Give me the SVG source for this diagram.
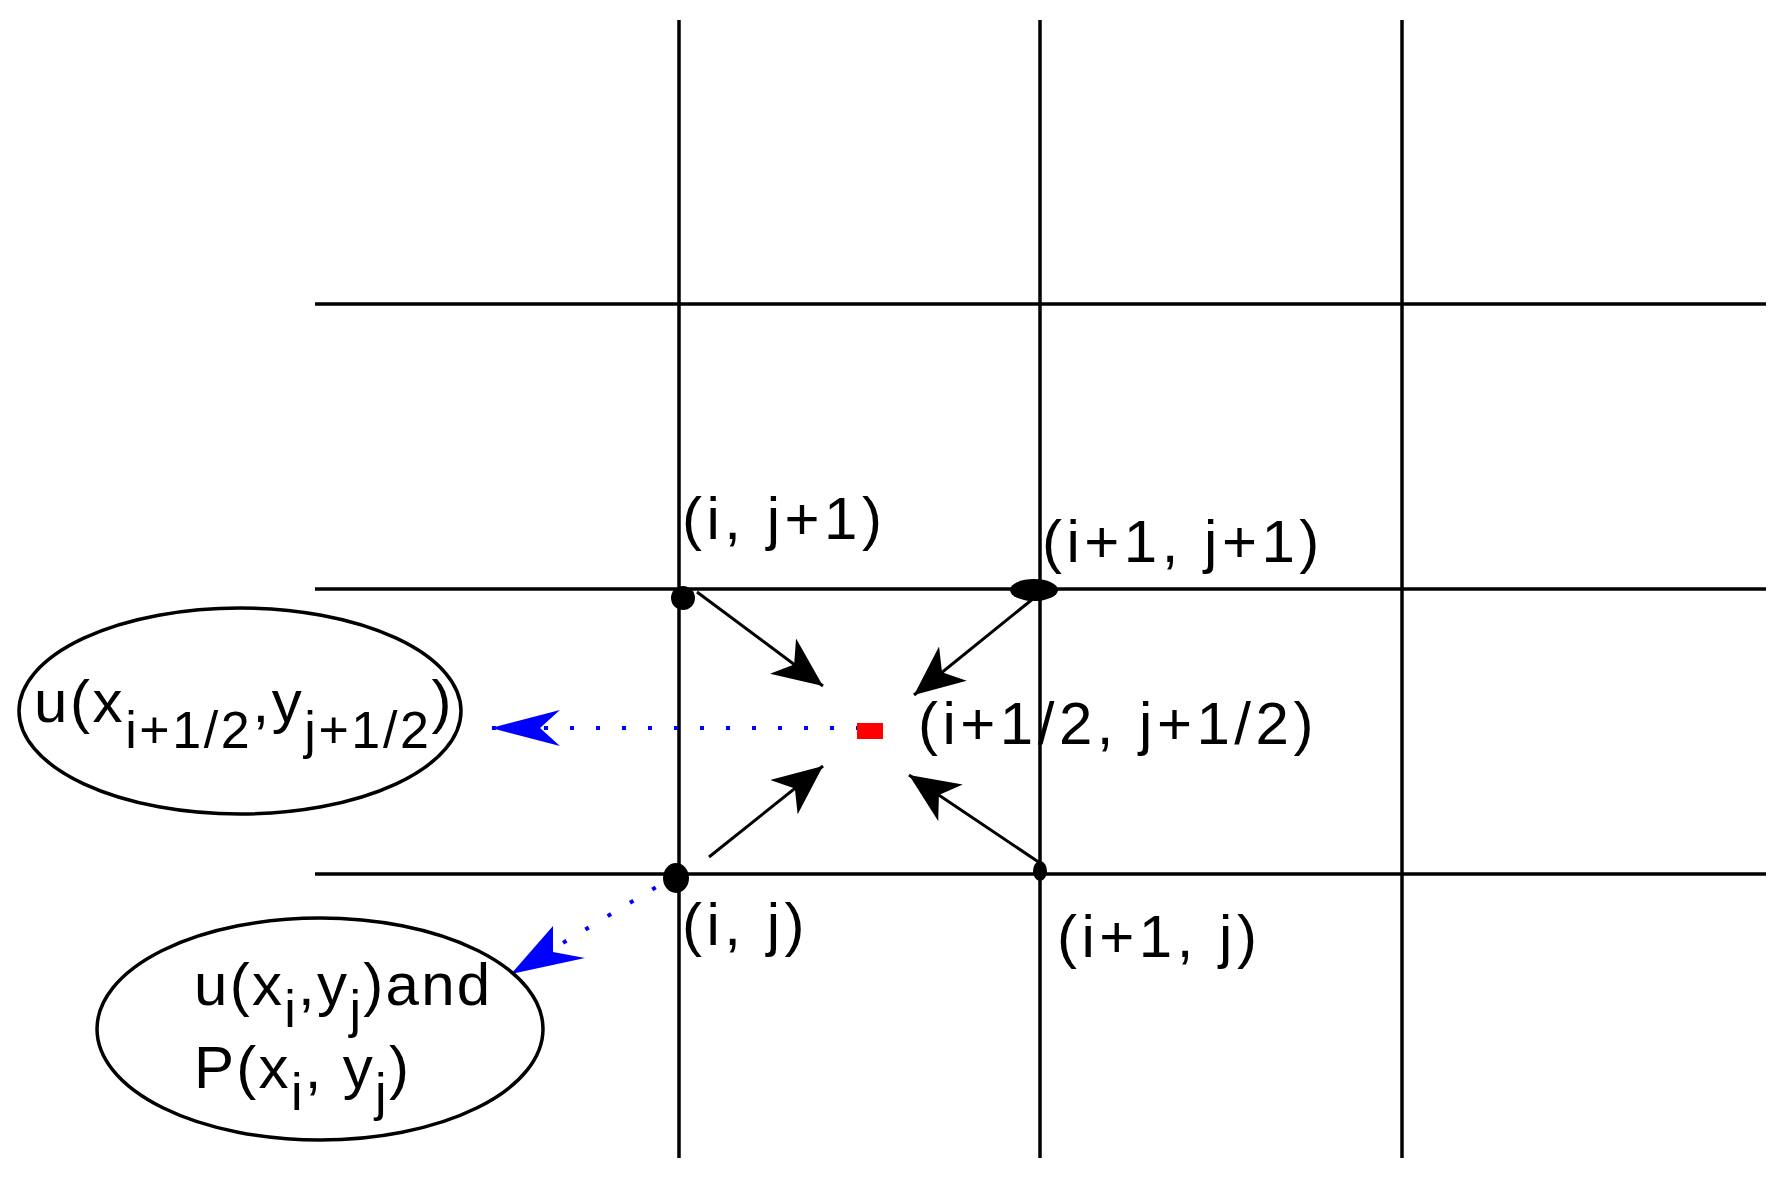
<svg xmlns="http://www.w3.org/2000/svg" width="1792" height="1184" viewBox="0 0 1792 1184">
<style>
.g{stroke:#000;stroke-width:3.5;fill:none}
.a{stroke:#000;stroke-width:3}
.b{stroke:#0000ff;stroke-width:4;stroke-dasharray:4 22}
.t{font-family:"Liberation Sans",Arial,sans-serif;font-size:60px;letter-spacing:4.5px;fill:#000}
.s{font-size:52px}
</style>
<defs>
<marker id="k" viewBox="0 0 50 44" refX="50" refY="22" markerWidth="50" markerHeight="44" markerUnits="userSpaceOnUse" orient="auto">
<path d="M0 0L50 22L0 44L14 22Z" fill="#000"/></marker>
</defs>
<rect width="1792" height="1184" fill="#fff"/>
<g id="grid" class="g">
<line x1="679" y1="20" x2="679" y2="1158"/>
<line x1="1040" y1="20" x2="1040" y2="1158"/>
<line x1="1402" y1="20" x2="1402" y2="1158"/>
<line x1="315" y1="304" x2="1766" y2="304"/>
<line x1="315" y1="589" x2="1766" y2="589"/>
<line x1="315" y1="874" x2="1766" y2="874"/>
</g>
<g id="connectors">
<line class="a" x1="697" y1="592" x2="823" y2="686" marker-end="url(#k)"/>
<line class="a" x1="1034" y1="598" x2="914" y2="695" marker-end="url(#k)"/>
<line class="a" x1="709" y1="857" x2="823" y2="766" marker-end="url(#k)"/>
<line class="a" x1="1040" y1="863" x2="909" y2="775" marker-end="url(#k)"/>
<line class="b" x1="860" y1="728" x2="491" y2="728"/>
<path d="M491 728L560 710L540 728L560 746Z" fill="#0000ff"/>
<line class="b" x1="678" y1="874" x2="511" y2="974"/>
<path d="M511 974L553 926L553 952L585 958Z" fill="#0000ff"/>
</g>
<g id="nodes">
<circle cx="683" cy="598" r="12"/>
<ellipse cx="1034" cy="590" rx="24" ry="11"/>
<ellipse cx="676" cy="878" rx="13" ry="15"/>
<ellipse cx="1040" cy="871" rx="7" ry="10"/>
<rect x="857" y="723" width="26" height="16" fill="#ff0000"/>
</g>
<g id="labels" class="t">
<text x="682" y="539">(i, j+1)</text>
<text x="1042" y="562">(i+1, j+1)</text>
<text x="918" y="744">(i+1/2, j+1/2)</text>
<text x="682" y="945">(i, j)</text>
<text x="1057" y="957">(i+1, j)</text>
</g>
<g id="ellipse1">
<ellipse class="g" cx="240" cy="711" rx="221" ry="103"/>
<text class="t" x="34" y="722" style="letter-spacing:2.6px">u(x<tspan class="s" dy="26">i+1/2</tspan><tspan dy="-26">,y</tspan><tspan class="s" dy="26">j+1/2</tspan><tspan dy="-26">)</tspan></text>
</g>
<g id="ellipse2">
<ellipse class="g" cx="320" cy="1029" rx="223" ry="111"/>
<text class="t" x="194" y="1005" style="letter-spacing:2.3px">u(x<tspan class="s" dy="22">i</tspan><tspan dy="-22">,y</tspan><tspan class="s" dy="22">j</tspan><tspan dy="-22">)and</tspan></text>
<text class="t" x="194" y="1088" style="letter-spacing:2.3px">P(x<tspan class="s" dy="22">i</tspan><tspan dy="-22">, y</tspan><tspan class="s" dy="22">j</tspan><tspan dy="-22">)</tspan></text>
</g>
</svg>
